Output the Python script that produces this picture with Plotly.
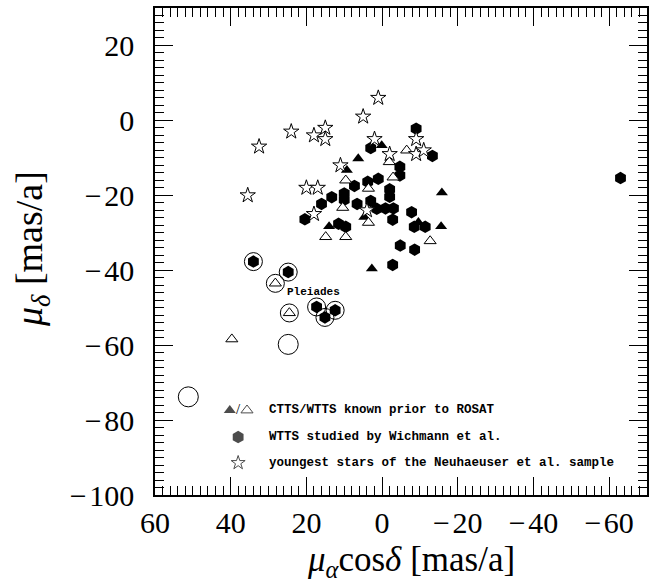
import plotly.graph_objects as go

# ---------------- data ----------------
# WTTS studied by Wichmann et al. (filled hexagons)
hex_x = [-9, 3, -13.3, -4.7, -4.7, 1, 3.8, 7.3, 10, 13.3, 16, 10, 6.6, 3, -2, -2,
         1.4, -0.9, -3, -2.8, -7.8, 20.4, 11.5, 9.6, -8.5, -11.4, -4.8, -8.6, -2.8, -63]
hex_y = [-2.2, -7.4, -9.5, -12.4, -14.7, -15.6, -16.4, -17.5, -19.5, -20.5, -22.3, -21.2,
         -22.3, -21.5, -18.4, -20.4, -23.6, -23.5, -23.5, -26.5, -24.5, -26.4, -27.6, -28.4,
         -28.4, -28.4, -33.4, -34.5, -38.6, -15.4]
# Pleiades members among them (circled)
pl_hex_x = [34, 24.8, 17.3, 12.4, 15.1]
pl_hex_y = [-37.7, -40.5, -49.8, -50.7, -52.6]

# CTTS known prior to ROSAT (filled triangles)
ctts_x = [6.3, 0.1, 9.3, -15.8, -15.6, 14, 4.7, 2.7, -9.6]
ctts_y = [-10.2, -6.7, -13.3, -19.3, -28.3, -28.3, -25.8, -39.6, -27.2]

# WTTS known prior to ROSAT (open triangles)
wtts_x = [-6.5, -1.9, -2.9, 9.6, 3.6, 10.4, 3.6, 14.9, 9.6, -12.7, 39.7]
wtts_y = [-8, -11.1, -15.2, -16, -18.2, -23.3, -27.3, -31.1, -31.1, -32.2, -58.4]
pl_wtts_x = [28.2, 24.5]
pl_wtts_y = [-43.5, -51.4]

# youngest stars of the Neuhaeuser et al. sample (open stars)
star_x = [1, 5, 24, 18, 15, 15, 32.5, 35.5, 20, 17, 11, 2, -9, -2, -9, -11, 18, 4]
star_y = [6, 1, -3, -4, -2, -5, -7, -20, -18, -18, -12, -5, -5, -9, -9, -8, -25, -24]

# Pleiades members without further classification (open circles)
pl_other_x = [24.8, 51.2]
pl_other_y = [-59.8, -73.8]

x_ticks = [60, 40, 20, 0, -20, -40, -60]
y_ticks = [-100, -80, -60, -40, -20, 0, 20]

legend_labels = ["CTTS/WTTS known prior to ROSAT",
                 "WTTS studied by Wichmann et al.",
                 "youngest stars of the Neuhaeuser et al. sample"]

# ---------------- figure ----------------
SERIF = "Liberation Serif"
MONO = "Liberation Mono"


def lab(v):
    return ("\u2212\u200a" + str(abs(v))) if v < 0 else str(v)


fig = go.Figure()

black = "black"
fig.add_trace(go.Scatter(x=hex_x + pl_hex_x, y=hex_y + pl_hex_y, mode="markers",
                         marker=dict(symbol="hexagon", size=12.5, color=black,
                                     line=dict(width=0)), showlegend=False))
fig.add_trace(go.Scatter(x=ctts_x, y=ctts_y, mode="markers",
                         marker=dict(symbol="triangle-up", size=10.5, color=black,
                                     line=dict(width=0)), showlegend=False))
fig.add_trace(go.Scatter(x=wtts_x + pl_wtts_x, y=wtts_y + pl_wtts_y, mode="markers",
                         marker=dict(symbol="triangle-up", size=10.5, color="white",
                                     line=dict(width=1, color=black)), showlegend=False))
fig.add_trace(go.Scatter(x=star_x, y=star_y, mode="markers",
                         marker=dict(symbol="star", size=11.5, color="white",
                                     line=dict(width=1, color=black)), showlegend=False))
# circles around Pleiades members
fig.add_trace(go.Scatter(x=pl_hex_x + pl_wtts_x, y=pl_hex_y + pl_wtts_y, mode="markers",
                         marker=dict(symbol="circle-open", size=18, color=black,
                                     line=dict(width=1)), showlegend=False))
fig.add_trace(go.Scatter(x=pl_other_x, y=pl_other_y, mode="markers",
                         marker=dict(symbol="circle-open", size=20, color=black,
                                     line=dict(width=1)), showlegend=False))

# legend keys on an overlay axis spanning the plot area (0..1)
key_x = [0.152, 0.187, 0.169, 0.169]
key_y = [0.174, 0.174, 0.119, 0.066]
key_sym = ["triangle-up", "triangle-up", "hexagon", "star"]
key_fill = [black, "white", black, "white"]
key_line = [0, 1, 0, 1]
key_size = [10.5, 10.5, 12.5, 10.5]
fig.add_trace(go.Scatter(x=key_x, y=key_y, xaxis="x2", yaxis="y2", mode="markers",
                         marker=dict(symbol=key_sym, size=key_size, color=key_fill,
                                     line=dict(width=key_line, color=black)),
                         showlegend=False, hoverinfo="skip"))

annotations = []
for lbl, yy in zip(legend_labels, [0.174, 0.119, 0.066]):
    annotations.append(dict(x=0.228, y=yy, xref="paper", yref="paper", text=lbl,
                            showarrow=False, xanchor="left", yanchor="middle",
                            font=dict(family=MONO, size=12.5, color=black, weight="bold")))
annotations.append(dict(x=0.169, y=0.176, xref="paper", yref="paper", text="/",
                        showarrow=False, xanchor="center", yanchor="middle",
                        font=dict(family=SERIF, size=15, color=black)))
annotations.append(dict(x=18.2, y=-45.9, xref="x", yref="y", text="Pleiades",
                        showarrow=False, xanchor="center", yanchor="middle",
                        font=dict(family=MONO, size=11, color=black, weight="bold")))
annotations.append(dict(x=0.52, y=-0.137, xref="paper", yref="paper",
                        text="<i>μ</i><sub><i>α</i></sub>cos<i>δ</i> [mas/a]",
                        showarrow=False, xanchor="center", yanchor="middle",
                        font=dict(family=SERIF, size=35, color=black)))
annotations.append(dict(x=-0.25, y=0.505, xref="paper", yref="paper",
                        text="<i>μ</i><sub><i>δ</i></sub> [mas/a]", textangle=-90,
                        showarrow=False, xanchor="center", yanchor="middle",
                        font=dict(family=SERIF, size=38, color=black)))

axis_common = dict(showgrid=False, zeroline=False, showline=True, linecolor=black,
                   linewidth=1.5, mirror="allticks", ticks="inside", ticklen=18,
                   tickwidth=1, tickcolor=black, automargin=False,
                   minor=dict(dtick=2, ticks="inside", ticklen=9, tickwidth=1,
                              tickcolor=black, showgrid=False),
                   tickfont=dict(family=SERIF, size=30, color=black))

fig.update_layout(
    width=657, height=586,
    margin=dict(l=155, r=10, t=8, b=91),
    paper_bgcolor="white", plot_bgcolor="white",
    xaxis=dict(range=[60, -70], tickmode="array", tickvals=x_ticks,
               ticktext=[lab(v) for v in x_ticks], ticklabelstandoff=0, **axis_common),
    yaxis=dict(range=[-100, 30], tickmode="array", tickvals=y_ticks,
               ticktext=[lab(v) for v in y_ticks], ticklabelstandoff=13, **axis_common),
    xaxis2=dict(overlaying="x", range=[0, 1], visible=False),
    yaxis2=dict(overlaying="y", range=[0, 1], visible=False),
    annotations=annotations,
    showlegend=False,
)

fig.write_html("out.html", config={"displayModeBar": False},
               post_script="document.body.style.margin='0';"
                           "document.body.style.overflow='hidden';")
